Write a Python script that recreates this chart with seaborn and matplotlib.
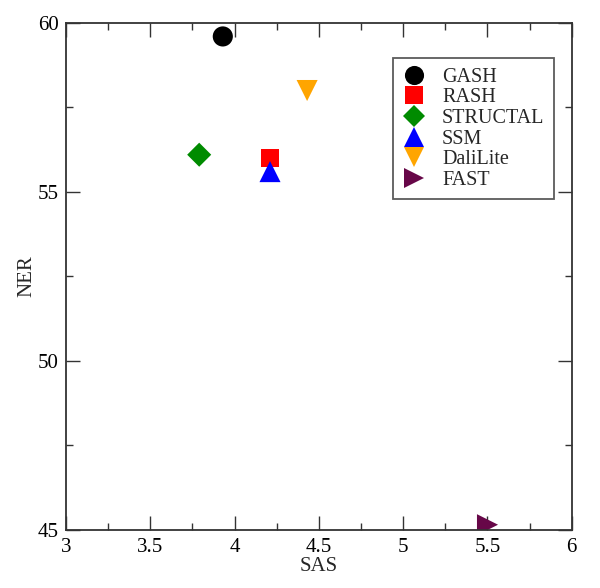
import matplotlib
matplotlib.use("Agg")
import matplotlib.pyplot as plt
import seaborn as sns
import pandas as pd
from matplotlib.ticker import MultipleLocator, FuncFormatter
from matplotlib.lines import Line2D

methods = ["GASH", "RASH", "STRUCTAL", "SSM", "DaliLite", "FAST"]
sas = [3.93, 4.21, 3.79, 4.21, 4.43, 5.50]
ner = [59.6, 56.0, 56.1, 55.6, 58.0, 45.15]
colors = ["#000000", "#ff0000", "#008b00", "#0000ff", "#ffa500", "#670748"]
markers = ["o", "s", "D", "^", "v", ">"]
sizes = [210, 170, 150, 230, 230, 230]

df = pd.DataFrame({"SAS": sas, "NER": ner, "method": methods, "size": sizes})

sns.set_style("ticks")
plt.rcParams["font.family"] = ["Liberation Serif", "DejaVu Serif"]

fig = plt.figure(figsize=(6.0, 5.88), dpi=100)
ax = fig.add_axes([0.11, 0.099, 0.843, 0.862])

sns.scatterplot(data=df, x="SAS", y="NER", hue="method", style="method",
                size="size", sizes=(min(sizes), max(sizes)),
                hue_order=methods, style_order=methods,
                palette=dict(zip(methods, colors)),
                markers=dict(zip(methods, markers)),
                linewidth=0, ax=ax, legend=False)

ax.set_xlim(3, 6)
ax.set_ylim(45, 60)
ax.xaxis.set_major_locator(MultipleLocator(0.5))
ax.xaxis.set_minor_locator(MultipleLocator(0.25))
ax.yaxis.set_major_locator(MultipleLocator(5))
ax.yaxis.set_minor_locator(MultipleLocator(2.5))
ax.xaxis.set_major_formatter(FuncFormatter(lambda v, p: f"{v:g}"))
ax.yaxis.set_major_formatter(FuncFormatter(lambda v, p: f"{v:g}"))

ax.tick_params(which="both", direction="in", top=True, right=True,
               color="#333333", width=1.0, labelsize=15, labelcolor="black")
ax.tick_params(which="major", length=10)
ax.tick_params(which="minor", length=5)
ax.tick_params(axis="x", pad=6)
ax.tick_params(axis="y", pad=5)
for s in ax.spines.values():
    s.set_linewidth(1.3)
    s.set_color("#333333")
    s.set_visible(True)

ax.set_xlabel("SAS", fontsize=15, labelpad=0)
ax.set_ylabel("NER", fontsize=15, labelpad=1)

handles = [Line2D([], [], linestyle="none", marker=m, color=c, markersize=ms ** 0.5 * 0.95,
                  markeredgewidth=0) for m, c, ms in zip(markers, colors, sizes)]
leg = ax.legend(handles, methods, loc="upper left", bbox_to_anchor=(0.646, 0.93),
                fontsize=14.5, frameon=True, fancybox=False, handletextpad=0.8,
                labelspacing=0.08, borderpad=0.45, handlelength=1.2,
                borderaxespad=0)
leg.get_frame().set_edgecolor("#333333")
leg.get_frame().set_linewidth(1.3)

fig.savefig("out.png", dpi=100, facecolor="white")
